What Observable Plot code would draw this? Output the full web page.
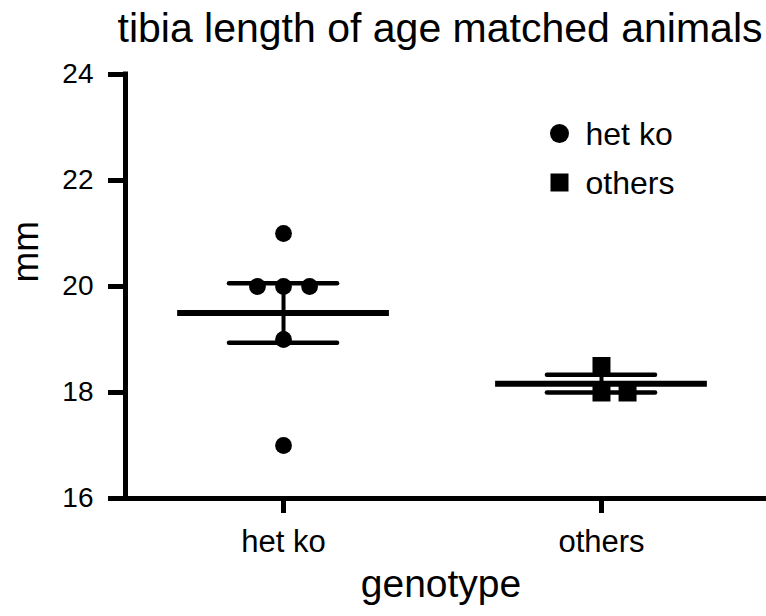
<!DOCTYPE html>
<html><head><meta charset="utf-8">
<script src="https://cdn.jsdelivr.net/npm/d3@7"></script>
<script src="https://cdn.jsdelivr.net/npm/@observablehq/plot@0.6"></script>
<style>body{margin:0;background:#fff} svg{display:block}</style>
</head><body><div id="chart"></div>
<script>
const title = "tibia length of age matched animals";
const xLabel = "genotype";
const yLabel = "mm";
const groups = ["het ko", "others"];
const hetKoValues = [21, 20, 20, 20, 19, 17];
const hetKoSlots = [0, -1, 0, 1, 0, 0];
const othersValues = [18.5, 18, 18];
const othersSlots = [0, 0, 1];
const yTicks = [16, 18, 20, 22, 24];

const step = 0.082;
const xDomain = [0.503, 2.519];
const points = [
  ...hetKoValues.map((v, i) => ({group: groups[0], pos: 1 + hetKoSlots[i] * step, value: v})),
  ...othersValues.map((v, i) => ({group: groups[1], pos: 2 + othersSlots[i] * step, value: v}))
];
const stats = groups.map((g, i) => {
  const vals = points.filter(p => p.group === g).map(p => p.value);
  const m = d3.mean(vals), se = d3.deviation(vals) / Math.sqrt(vals.length);
  return {group: g, pos: i + 1, mean: m, lo: m - se, hi: m + se};
});

const chart = Plot.plot({
  width: 766, height: 616,
  marginLeft: 125, marginRight: 0, marginTop: 74, marginBottom: 118,
  style: {fontFamily: "'Liberation Sans', Arial, sans-serif", color: "#000", background: "#fff"},
  x: {type: "linear", domain: xDomain, axis: null, label: null},
  y: {domain: [16, 24], axis: null, label: null},
  marks: [
    Plot.axisY({ticks: yTicks, label: null, tickSize: 17, tickPadding: 15, fontSize: 28, strokeWidth: 5, anchor: "left"}),
    Plot.axisX({ticks: [1, 2], label: null, tickFormat: d => groups[d - 1], tickSize: 15, tickPadding: 16, fontSize: 31, strokeWidth: 5, anchor: "bottom"}),
    Plot.ruleX([xDomain[0]], {y1: 16, y2: 24, strokeWidth: 5, strokeLinecap: "square"}),
    Plot.ruleY([16], {strokeWidth: 5}),
    Plot.ruleY(stats, {y: "mean", x1: d => d.pos - 0.333, x2: d => d.pos + 0.333, strokeWidth: 6}),
    Plot.ruleY(stats, {y: "hi", x1: d => d.pos - 0.17, x2: d => d.pos + 0.17, strokeWidth: 4.5, strokeLinecap: "round"}),
    Plot.ruleY(stats, {y: "lo", x1: d => d.pos - 0.17, x2: d => d.pos + 0.17, strokeWidth: 4.5, strokeLinecap: "round"}),
    Plot.ruleX(stats, {x: "pos", y1: "lo", y2: "hi", strokeWidth: 4}),
    Plot.dot(points.filter(p => p.group === groups[0]), {x: "pos", y: "value", r: 8.4, fill: "black", symbol: "circle"}),
    Plot.dot(points.filter(p => p.group === groups[1]), {x: "pos", y: "value", r: 10.15, fill: "black", symbol: "square"}),
    // legend
    Plot.dot([groups[0]], {frameAnchor: "top-left", dx: 434, dy: 59, r: 9.5, fill: "black", symbol: "circle"}),
    Plot.text([groups[0]], {frameAnchor: "top-left", dx: 460, dy: 70, text: d => d, textAnchor: "start", lineAnchor: "bottom", fontSize: 32, fill: "black"}),
    Plot.dot([groups[1]], {frameAnchor: "top-left", dx: 434, dy: 108, r: 10.15, fill: "black", symbol: "square"}),
    Plot.text([groups[1]], {frameAnchor: "top-left", dx: 460, dy: 119, text: d => d, textAnchor: "start", lineAnchor: "bottom", fontSize: 32, fill: "black"}),
    // titles
    Plot.text([title], {frameAnchor: "top", dx: -6, dy: -33, lineAnchor: "bottom", fontSize: 41, fill: "black"}),
    Plot.text([xLabel], {frameAnchor: "bottom", dx: -5, dy: 98, lineAnchor: "bottom", fontSize: 39, fill: "black"}),
    Plot.text([yLabel], {frameAnchor: "left", dx: -88, dy: -4, rotate: -90, lineAnchor: "bottom", fontSize: 37, fill: "black"})
  ]
});
document.getElementById("chart").appendChild(chart);
</script>
</body></html>
